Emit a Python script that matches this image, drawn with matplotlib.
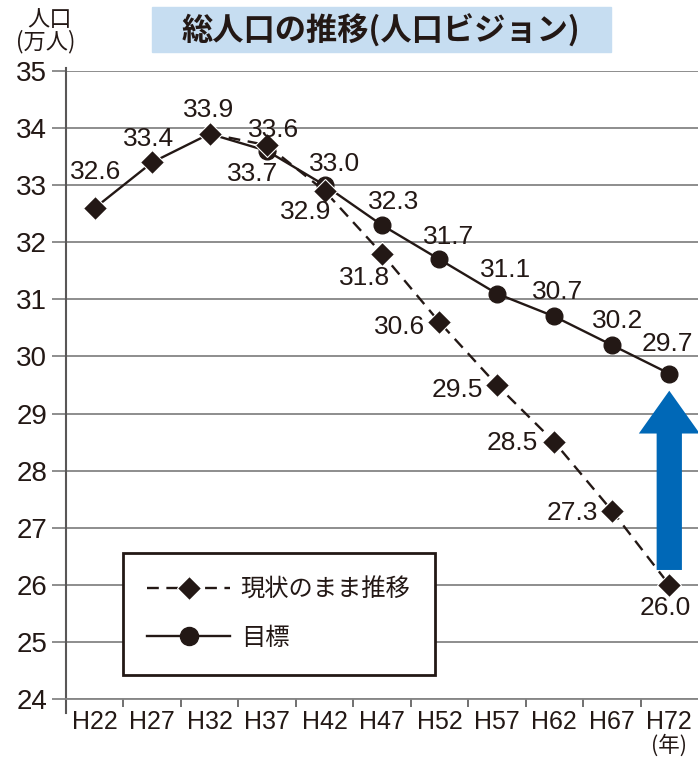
import numpy as np
import matplotlib.pyplot as plt
from matplotlib.lines import Line2D
from matplotlib.patches import Rectangle

# données (万人)
years = ["H22", "H27", "H32", "H37", "H42", "H47", "H52", "H57", "H62", "H67", "H72"]
current = [32.6, 33.4, 33.9, 33.7, 32.9, 31.8, 30.6, 29.5, 28.5, 27.3, 26.0]
target = [32.6, 33.4, 33.9, 33.6, 33.0, 32.3, 31.7, 31.1, 30.7, 30.2, 29.7]
y_ticks = list(range(24, 36))

# décalages des étiquettes (pixels)
current_offsets = [(1, 36), (-4, 23), (-1, 24), (-14, -29), (-19, -21), (-17, -24),
                   (-40, -5), (-40, -5), (-42, -1), (-40, -2), (-4, -23)]
target_offsets = [None, None, None, (6, 21), (10, 21), (12, 23), (9, 22), (9, 24),
                  (3, 24), (6, 24), (-2, 30)]

ink = "#231815"
grid_col = "#858585"
blue = "#0068b7"

plt.rcParams["font.family"] = ["Liberation Sans", "Noto Sans CJK JP"]

fig = plt.figure(figsize=(6.98, 7.62), dpi=100)
ax = fig.add_axes([66 / 698, 1 - 699 / 762, 632 / 698, 628 / 762])

x = np.arange(len(years))

# ligne objectif
ax.plot(x, target, color=ink, lw=1.7, marker="o", ms=12,
        markevery=list(range(3, len(years))), zorder=3)
# ligne tendance actuelle
ax.plot(x[2:], current[2:], color=ink, lw=1.7, dashes=(5, 3.2), zorder=4)
ax.plot(x, current, ls="none", marker="D", ms=12.5, color=ink,
        mec="white", mew=0.8, zorder=5)

for i, v in enumerate(current):
    dx, dy = current_offsets[i]
    ax.annotate(f"{v:.1f}", xy=(i, v), xytext=(dx, dy), textcoords="offset pixels",
                ha="center", va="center", fontsize=19, color=ink, zorder=6)
for i, v in enumerate(target):
    if target_offsets[i] is None:
        continue
    dx, dy = target_offsets[i]
    ax.annotate(f"{v:.1f}", xy=(i, v), xytext=(dx, dy), textcoords="offset pixels",
                ha="center", va="center", fontsize=19, color=ink, zorder=6)

# flèche bleue
ax.arrow(10, 26.26, 0, 3.14, width=0.44, head_width=1.06, head_length=0.75,
         length_includes_head=True, color=blue, lw=0, clip_on=False, zorder=2)

ax.set_xlim(-0.5, 10.5)
ax.set_ylim(24, 35)
ax.set_yticks(y_ticks)
ax.set_xticks(x)
ax.set_xticklabels(years)
ax.set_xticks(np.arange(0.5, 10, 1), minor=True)
ax.grid(axis="y", color=grid_col, lw=1.3, zorder=0)
ax.set_axisbelow(True)

for s in ["top", "right"]:
    ax.spines[s].set_visible(False)
ax.spines["bottom"].set_color(grid_col)
ax.spines["bottom"].set_linewidth(1.3)
ax.spines["left"].set_color("#595757")
ax.spines["left"].set_linewidth(1.5)
ax.spines["left"].set_bounds(23.75, 35.05)

ax.tick_params(axis="y", length=10, width=1.3, color=grid_col, pad=3.5,
               labelsize=20, labelcolor=ink)
ax.tick_params(axis="x", which="major", length=0, pad=8, labelsize=18, labelcolor=ink)
ax.tick_params(axis="x", which="minor", length=6, width=1.2, color="#595757")

ax.annotate("(年)", xy=(10, 0), xycoords=("data", "axes fraction"), xytext=(0, -47),
            textcoords="offset pixels", ha="center", va="center", fontsize=15.5,
            color=ink, family=["Noto Sans CJK JP"], annotation_clip=False)

# légende
handles = [
    Line2D([], [], color=ink, lw=1.7, dashes=(5, 3.2), marker="D", ms=12.5,
           mec="white", mew=0.8),
    Line2D([], [], color=ink, lw=1.7, marker="o", ms=13),
]
leg = ax.legend(handles, ["現状のまま推移", "目標"], loc="lower left",
                bbox_to_anchor=(0.090, 0.038), borderaxespad=0, numpoints=1,
                fancybox=False, framealpha=1, edgecolor=ink, borderpad=1.0,
                labelspacing=0.9, handlelength=3.4, handletextpad=0.45,
                prop={"family": "Noto Sans CJK JP", "size": 17.5})
leg.get_frame().set_linewidth(2)
leg.set_zorder(7)
for t in leg.get_texts():
    t.set_color(ink)

# titre
fig.patches.append(Rectangle((152 / 698, 1 - 52 / 762), 459 / 698, 45 / 762,
                             transform=fig.transFigure, color="#c6ddf1", zorder=0))
fig.text(381 / 698, 1 - 31 / 762, "総人口の推移(人口ビジョン)", ha="center", va="center",
         fontsize=22.5, fontweight="bold", color=ink, family=["Noto Sans CJK JP"])

fig.text(50 / 698, 1 - 20 / 762, "人口", ha="center", va="center", fontsize=16,
         color=ink, family=["Noto Sans CJK JP"])
fig.text(46 / 698, 1 - 42 / 762, "(万人)", ha="center", va="center", fontsize=16,
         color=ink, family=["Noto Sans CJK JP"])

fig.savefig("out.png", dpi=100)
